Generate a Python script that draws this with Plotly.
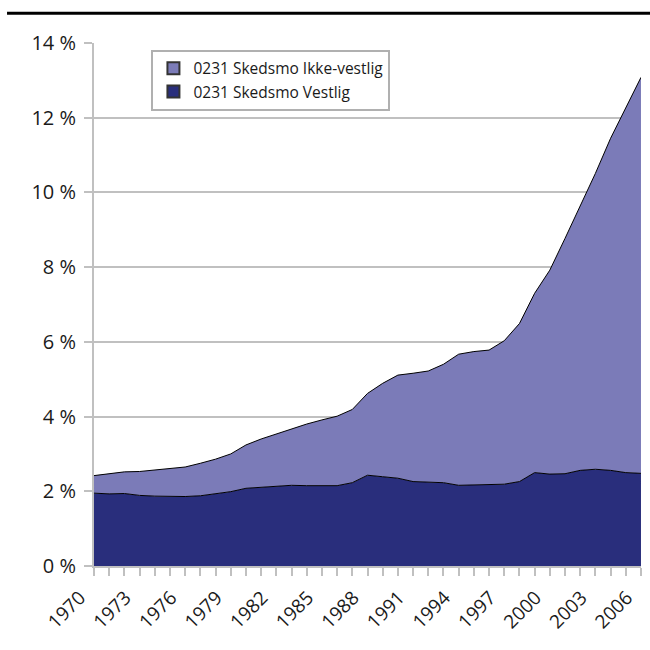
import plotly.graph_objects as go

# share of population (%), 0231 Skedsmo
years = list(range(1970, 2007))
vestlig = [1.95, 1.93, 1.94, 1.89, 1.87, 1.86, 1.86, 1.88, 1.94, 1.99,
           2.08, 2.11, 2.12, 2.16, 2.15, 2.16, 2.15, 2.23, 2.43, 2.39,
           2.35, 2.26, 2.24, 2.23, 2.16, 2.17, 2.17, 2.19, 2.26, 2.50,
           2.46, 2.47, 2.56, 2.59, 2.56, 2.50, 2.48]
ikke_vestlig = [0.47, 0.53, 0.58, 0.64, 0.70, 0.74, 0.79, 0.87, 0.92, 1.01,
                1.16, 1.29, 1.41, 1.52, 1.65, 1.75, 1.86, 1.96, 2.19, 2.50,
                2.76, 2.90, 2.98, 3.17, 3.51, 3.57, 3.61, 3.84, 4.23, 4.80,
                5.46, 6.30, 7.06, 7.92, 8.89, 9.75, 10.60]
names = ["0231 Skedsmo Vestlig", "0231 Skedsmo Ikke-vestlig"]
colors = ["#292e7c", "#7b7bb8"]
label_years = years[::3]

fig = go.Figure()

# stacked areas
for vals, col in zip([vestlig, ikke_vestlig], colors):
    fig.add_trace(go.Scatter(x=years, y=vals, stackgroup="a", mode="lines",
                             line=dict(color="black", width=1),
                             fillcolor=col, showlegend=False, hoverinfo="skip"))

# legend entries with square swatches (Ikke-vestlig on top)
for name, col in zip(names[::-1], colors[::-1]):
    fig.add_trace(go.Scatter(x=[None], y=[None], mode="markers", name=name,
                             legendgroup=name,
                             marker=dict(symbol="square", size=13, color=col,
                                         line=dict(color="#333333", width=1))))

fig.update_layout(
    width=650, height=650,
    margin=dict(l=94, r=9, t=43, b=84),
    plot_bgcolor="white", paper_bgcolor="white",
    font=dict(family="Open Sans", size=20, color="#1a1a1a"),
    legend=dict(x=0.105, y=0.987, xanchor="left", yanchor="top",
                traceorder="normal",
                bordercolor="#b0b0b0", borderwidth=2, bgcolor="white",
                font=dict(size=15.5), itemsizing="constant",
                tracegroupgap=7),
    shapes=[dict(type="line", xref="paper", yref="paper",
                 x0=-0.159, x1=1.02, y0=1.057, y1=1.057,
                 line=dict(color="black", width=3))],
)

fig.update_xaxes(range=[1969.999, 2006.001], tickmode="array",
                 tickvals=label_years, ticktext=[str(y) for y in label_years],
                 tickangle=-45, tickfont=dict(size=19),
                 ticklabelshift=-14, ticklabelstandoff=3,
                 ticks="outside", ticklen=8, tickwidth=2,
                 tickcolor="#c0c0c0", showline=True, linecolor="#c0c0c0",
                 linewidth=2, showgrid=False, zeroline=False, automargin=False,
                 ticklabeloverflow="allow",
                 minor=dict(dtick=1, tick0=1970, ticks="outside", ticklen=8,
                            tickwidth=2, tickcolor="#c0c0c0", showgrid=False))
fig.update_yaxes(range=[0, 14], dtick=2, ticksuffix=" %", ticks="outside",
                 ticklen=8, tickwidth=2, tickcolor="#c0c0c0",
                 showline=True, linecolor="#c0c0c0", linewidth=2,
                 gridcolor="#c0c0c0", gridwidth=2, zeroline=False,
                 automargin=False, ticklabelstandoff=4)

# drop the default page margin so the 650px figure fits the window
fig.write_html("out.html", config={"displayModeBar": False},
               post_script="document.body.style.margin='0';"
                           "document.body.style.overflow='hidden';")
